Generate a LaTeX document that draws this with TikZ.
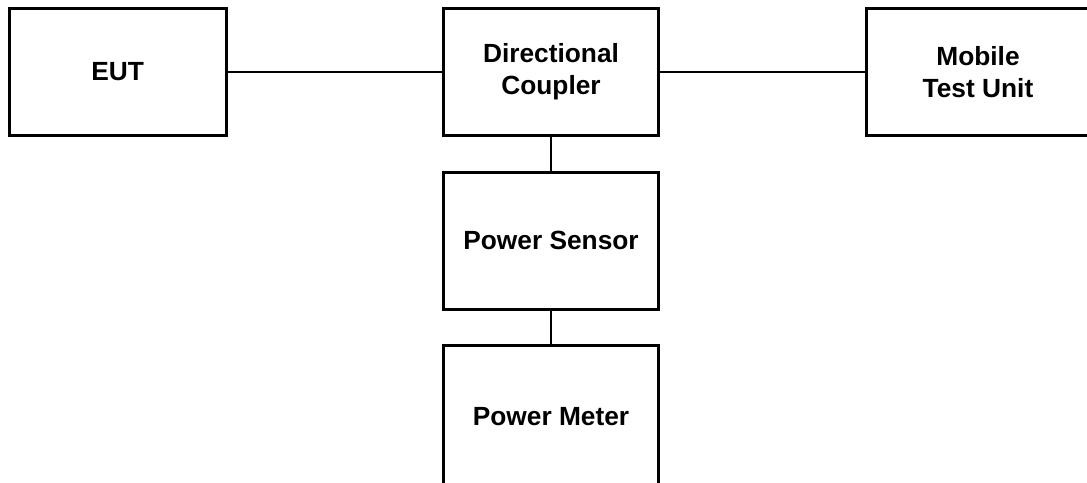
\documentclass[tikz,border=0pt]{standalone}
\usepackage{fontspec}
\setmainfont{Liberation Sans}
\begin{document}
\begin{tikzpicture}[x=1pt,y=-1pt,
  blk/.style={draw=black,line width=3pt,rectangle,minimum width=215pt,minimum height=137pt,inner sep=0pt,outer sep=0pt,align=center,font=\fontsize{26.3}{32}\selectfont\bfseries},
  wire/.style={draw=black,line width=2.5pt}]
\useasboundingbox (0,0) rectangle (1087,482);
\clip (0,0) rectangle (1087,482);
\node[blk,minimum width=216.5pt,minimum height=127.2pt] (eut) at (117.75,72) {EUT};
\node[blk,minimum width=214.4pt,minimum height=127.2pt] (dc) at (551,72) {Directional\\Coupler};
\node[blk,minimum width=224pt,minimum height=127.2pt] (mtu) at (978,72) {Mobile\\Test Unit};
\node[blk,minimum width=214.4pt] (ps) at (551,240.5) {Power Sensor};
\node[blk,minimum width=214.4pt,minimum height=142pt] (pm) at (551,416.5) {Power Meter};
\draw[wire] (eut.east) -- (dc.west);
\draw[wire] (dc.east) -- (mtu.west);
\draw[wire] (dc.south) -- (ps.north);
\draw[wire] (ps.south) -- (pm.north);
\end{tikzpicture}
\end{document}
